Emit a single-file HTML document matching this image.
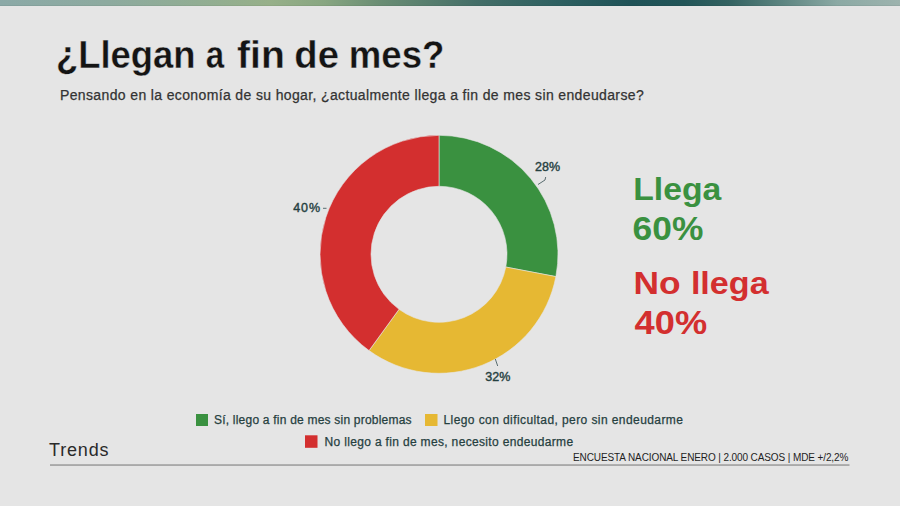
<!DOCTYPE html>
<html lang="es">
<head>
<meta charset="utf-8">
<title>¿Llegan a fin de mes?</title>
<style>
html,body{margin:0;padding:0;background:#e5e5e5;}
body{width:900px;height:506px;overflow:hidden;position:relative;}
svg{display:block;}
text{font-family:"Liberation Sans",Arial,sans-serif;}
</style>
</head>
<body>
<svg width="900" height="506" viewBox="0 0 900 506">
  <defs>
    <linearGradient id="topbar" x1="0" y1="0" x2="900" y2="0" gradientUnits="userSpaceOnUse">
      <stop offset="0" stop-color="#8ba9a7"/>
      <stop offset="0.12" stop-color="#8daa9f"/>
      <stop offset="0.22" stop-color="#91ad93"/>
      <stop offset="0.30" stop-color="#97b089"/>
      <stop offset="0.36" stop-color="#88a681"/>
      <stop offset="0.42" stop-color="#6b8e74"/>
      <stop offset="0.53" stop-color="#446e68"/>
      <stop offset="0.62" stop-color="#2e6061"/>
      <stop offset="0.70" stop-color="#1f5257"/>
      <stop offset="0.76" stop-color="#225558"/>
      <stop offset="0.81" stop-color="#336261"/>
      <stop offset="0.87" stop-color="#5d8581"/>
      <stop offset="0.93" stop-color="#8ba9a4"/>
      <stop offset="1" stop-color="#9db3ae"/>
    </linearGradient>
  </defs>
  <rect x="0" y="0" width="900" height="506" fill="#e5e5e5"/>
  <rect x="0" y="0" width="900" height="6" fill="url(#topbar)"/>
  <rect x="0" y="5" width="900" height="1" fill="#000" fill-opacity="0.05"/>

  <!-- title -->
  <g font-size="38.5" font-weight="bold" fill="#141414" stroke="#e5e5e5" stroke-width="0.35" lengthAdjust="spacingAndGlyphs">
    <text x="55.9" y="68" textLength="139.6" lengthAdjust="spacingAndGlyphs">¿Llegan</text>
    <text x="205.8" y="68" textLength="18.4" lengthAdjust="spacingAndGlyphs">a</text>
    <text x="237" y="68" textLength="47.8" lengthAdjust="spacingAndGlyphs">fin</text>
    <text x="294.3" y="68" textLength="44.6" lengthAdjust="spacingAndGlyphs">de</text>
    <text x="348.8" y="68" textLength="95.7" lengthAdjust="spacingAndGlyphs">mes?</text>
  </g>
  <text x="60" y="100" font-size="14" fill="#333333" stroke="#333333" stroke-width="0.25" textLength="583.7" lengthAdjust="spacing">Pensando en la economía de su hogar, ¿actualmente llega a fin de mes sin endeudarse?</text>

  <!-- donut -->
  <g stroke="#e5e5e5" stroke-width="0.6">
    <path fill="#3a9140" d="M439.00,135.30 A119,119 0 0 1 555.89,276.60 L505.80,267.04 A68,68 0 0 0 439.00,186.30 Z"/>
    <path fill="#e6b833" d="M555.89,276.60 A119,119 0 0 1 369.05,350.57 L399.03,309.31 A68,68 0 0 0 505.80,267.04 Z"/>
    <path fill="#d32f2f" d="M369.05,350.57 A119,119 0 0 1 439.00,135.30 L439.00,186.30 A68,68 0 0 0 399.03,309.31 Z"/>
  </g>

  <!-- leader lines -->
  <g stroke="#4a5f62" stroke-width="0.9" fill="none">
    <polyline points="538,184.5 545,180 545.7,177"/>
    <polyline points="323,208.3 326.5,208.3"/>
    <polyline points="495.3,359 497.7,366"/>
  </g>
  <g font-size="12.5" fill="#25403f" stroke="#25403f" stroke-width="0.4">
    <text x="535" y="171">28%</text>
    <text x="293.3" y="212.1" textLength="26.7">40%</text>
    <text x="485.3" y="380.9">32%</text>
  </g>

  <!-- summary -->
  <g font-size="32" font-weight="bold">
    <text x="633.2" y="200" fill="#3a9140" textLength="88.1" lengthAdjust="spacingAndGlyphs">Llega</text>
    <text x="632.6" y="239.8" font-size="33.2" fill="#3a9140" textLength="70.7" lengthAdjust="spacingAndGlyphs">60%</text>
    <text x="633.6" y="293.8" fill="#d32f2f" textLength="47.1" lengthAdjust="spacingAndGlyphs">No</text>
    <text x="690.9" y="293.8" fill="#d32f2f" textLength="77.7" lengthAdjust="spacingAndGlyphs">llega</text>
    <text x="634.6" y="333.6" font-size="33.2" fill="#d32f2f" textLength="72.5" lengthAdjust="spacingAndGlyphs">40%</text>
  </g>

  <!-- legend -->
  <rect x="196" y="414" width="12" height="12" fill="#3a9140"/>
  <rect x="425" y="414" width="12.5" height="12" fill="#e6b833"/>
  <rect x="305" y="435.3" width="12.5" height="12.5" fill="#d32f2f"/>
  <g font-size="12" fill="#25403f" stroke="#25403f" stroke-width="0.25">
    <text x="214" y="424" textLength="197.6" lengthAdjust="spacing">Sí, llego a fin de mes sin problemas</text>
    <text x="443.5" y="424" textLength="239.4" lengthAdjust="spacing">Llego con dificultad, pero sin endeudarme</text>
    <text x="324.5" y="445.8" textLength="248.6" lengthAdjust="spacing">No llego a fin de mes, necesito endeudarme</text>
  </g>

  <!-- footer -->
  <text x="49" y="456" font-size="18" fill="#2a2a2a" textLength="59.5" lengthAdjust="spacing">Trends</text>
  <rect x="50" y="464.3" width="799.5" height="1.5" fill="#9b9b9b"/>
  <text x="573" y="460.6" font-size="10" fill="#1e1e1e" textLength="275.4" lengthAdjust="spacing">ENCUESTA NACIONAL ENERO | 2.000 CASOS | MDE +/2,2%</text>
</svg>
</body>
</html>
